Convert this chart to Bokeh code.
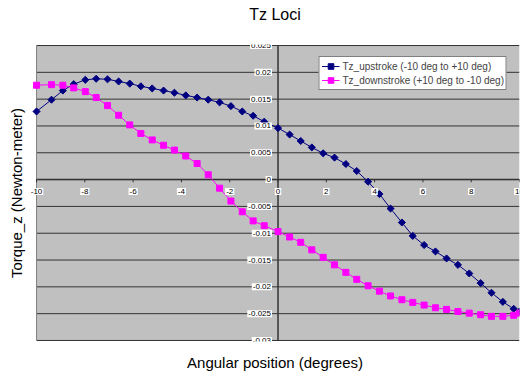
import numpy as np
from bokeh.plotting import figure
from bokeh.models import (FixedTicker, Legend, LegendItem, ColumnDataSource, Label,
                          BoxAnnotation, LinearAxis, Title)
from bokeh.embed import file_html
from bokeh.resources import INLINE

# ---- data ----
angle_deg = [-10, -9.38, -8.91, -8.46, -7.98, -7.53, -7.06, -6.60, -6.14, -5.68, -5.21,
             -4.74, -4.29, -3.82, -3.35, -2.89, -2.42, -1.95, -1.48, -1.03, -0.57, 0,
             0.48, 0.94, 1.40, 1.87, 2.34, 2.81, 3.26, 3.73, 4.20, 4.66, 5.13, 5.58,
             6.05, 6.52, 6.98, 7.45, 7.92, 8.39, 8.84, 9.31, 9.76, 10]
tz_upstroke = [0.0127, 0.0149, 0.0166, 0.0178, 0.0186, 0.0188, 0.0187, 0.0183, 0.0179, 0.0174,
               0.0170, 0.0166, 0.0162, 0.0157, 0.0153, 0.0149, 0.0144, 0.0137, 0.0127, 0.0119,
               0.0108, 0.0096, 0.0084, 0.0072, 0.0060, 0.0049, 0.0041, 0.0029, 0.0016, -0.0004,
               -0.0027, -0.0054, -0.0080, -0.0105, -0.0122, -0.0134, -0.0147, -0.0159, -0.0175,
               -0.0193, -0.0211, -0.0228, -0.0241, -0.0246]
tz_downstroke = [0.0176, 0.0177, 0.0176, 0.0171, 0.0164, 0.0153, 0.0138, 0.0120, 0.0102, 0.0086,
                 0.0074, 0.0064, 0.0055, 0.0044, 0.0030, 0.0009, -0.0016, -0.0040, -0.0060, -0.0077,
                 -0.0086, -0.0097, -0.0107, -0.0117, -0.0131, -0.0145, -0.0159, -0.0173, -0.0186,
                 -0.0198, -0.0208, -0.0217, -0.0224, -0.0229, -0.0234, -0.0239, -0.0242, -0.0246,
                 -0.0249, -0.0252, -0.0255, -0.0255, -0.0253, -0.0249]
x_tick_values = [-10, -8, -6, -4, -2, 0, 2, 4, 6, 8, 10]
x_tick_labels = ["-10", "-8", "-6", "-4", "-2", "0", "2", "4", "6", "8", "10"]
y_tick_values = [0.025, 0.02, 0.015, 0.01, 0.005, 0, -0.005, -0.01, -0.015, -0.02, -0.025, -0.03]
y_tick_labels = ["0.025", "0.02", "0.015", "0.01", "0.005", "0", "-0.005", "-0.01", "-0.015",
                 "-0.02", "-0.025", "-0.03"]
series_names = ["Tz_upstroke (-10 deg to +10 deg)", "Tz_downstroke (+10 deg to -10 deg)"]
chart_title = "Tz Loci"

FONT = "Liberation Sans"
X_MIN, X_MAX = x_tick_values[0], x_tick_values[-1]
Y_MIN, Y_MAX = min(y_tick_values), max(y_tick_values)

p = figure(width=520, height=373, x_range=(X_MIN - 0.25, X_MAX),
           y_range=(Y_MIN - 0.00019, Y_MAX + 0.00019),
           output_backend="svg", toolbar_location=None,
           min_border_left=30, min_border_right=1, min_border_top=44, min_border_bottom=29,
           background_fill_color="white", border_fill_color="white",
           outline_line_color=None, title=None)

# invisible spacer axis between the title and the plot area (no lines, no drawn labels)
spacer = LinearAxis(ticker=FixedTicker(ticks=[0]), axis_line_color=None,
                    major_tick_out=19, major_tick_in=0, minor_tick_out=0, minor_tick_in=0,
                    major_tick_line_color=None, minor_tick_line_color=None,
                    major_label_standoff=0, major_label_text_font_size="1px",
                    major_label_text_color=None)
p.add_layout(spacer, "above")
p.add_layout(Title(text=chart_title, align="center", vertical_align="top",
                   text_font=FONT, text_font_size="16px", text_font_style="normal",
                   text_color="black", standoff=2), "above")

# plot area (grey) limited to the data window
p.add_layout(BoxAnnotation(left=X_MIN, right=X_MAX, bottom=Y_MIN, top=Y_MAX,
                           fill_color="#C0C0C0", fill_alpha=1, line_color=None, level="underlay"))
p.xgrid.visible = False
p.ygrid.visible = False

# outer axes: only titles, no ticks
for ax in (p.below[0], p.left[0]):
    ax.ticker = FixedTicker(ticks=[])
    ax.major_tick_out = 0
    ax.major_tick_in = 0
    ax.minor_tick_out = 0
    ax.minor_tick_in = 0
    ax.major_label_standoff = 0
    ax.axis_line_color = None
    ax.axis_label_text_font = FONT
    ax.axis_label_text_font_size = "15px"
    ax.axis_label_text_font_style = "normal"
    ax.axis_label_text_color = "black"
p.below[0].axis_label = "Angular position (degrees)"
p.below[0].axis_label_standoff = 12
p.left[0].axis_label = "Torque_z (Newton-meter)"
p.left[0].axis_label_standoff = 6

# horizontal grid lines
n_y = len(y_tick_values)
p.segment(x0=[X_MIN] * n_y, x1=[X_MAX] * n_y, y0=y_tick_values, y1=y_tick_values,
          line_color="#333333", line_width=1)
# left border of the plot area
p.segment(x0=[X_MIN], x1=[X_MIN], y0=[Y_MIN], y1=[Y_MAX], line_color="#808080", line_width=1)
# axes crossing at the origin
p.segment(x0=[X_MIN, 0], x1=[X_MAX, 0], y0=[0, Y_MIN], y1=[0, Y_MAX],
          line_color="#333333", line_width=1.5)
# x tick marks on the center axis
n_x = len(x_tick_values)
p.segment(x0=x_tick_values, x1=x_tick_values, y0=[0] * n_x, y1=[-0.0005] * n_x,
          line_color="#333333", line_width=1)

# series
src = ColumnDataSource(dict(x=angle_deg, up=tz_upstroke, down=tz_downstroke))
l1 = p.line("x", "up", source=src, line_color="#000080", line_width=1)
s1 = p.scatter("x", "up", source=src, marker="square", angle=np.pi / 4, size=5,
               fill_color="#000080", line_color="#000080")
l2 = p.line("x", "down", source=src, line_color="#FF00FF", line_width=1)
s2 = p.scatter("x", "down", source=src, marker="square", size=6,
               fill_color="#FF00FF", line_color="#FF00FF")

# tick labels on the center axes
for xv, lab in zip(x_tick_values, x_tick_labels):
    p.add_layout(Label(x=xv, y=0, text=lab, y_offset=-12, text_align="center",
                       text_baseline="middle", text_font=FONT, text_font_size="8px",
                       background_fill_color="white", background_fill_alpha=1,
                       text_color="black", padding=1))
for yv, lab in zip(y_tick_values, y_tick_labels):
    p.add_layout(Label(x=0, y=yv, text=lab, x_offset=-6, text_align="right",
                       text_baseline="middle", text_font=FONT, text_font_size="8px",
                       background_fill_color="white", background_fill_alpha=1,
                       text_color="black", padding=1))

legend = Legend(items=[LegendItem(label=series_names[0], renderers=[l1, s1]),
                       LegendItem(label=series_names[1], renderers=[l2, s2])],
                location="top_right", margin=12, padding=2, spacing=0,
                label_text_font=FONT, label_text_font_size="10px", label_height=14,
                glyph_height=14, glyph_width=18, label_standoff=3,
                border_line_color="black", border_line_width=1,
                background_fill_color="white", background_fill_alpha=1)
p.add_layout(legend)

open("out.html", "w").write(file_html(p, INLINE))
